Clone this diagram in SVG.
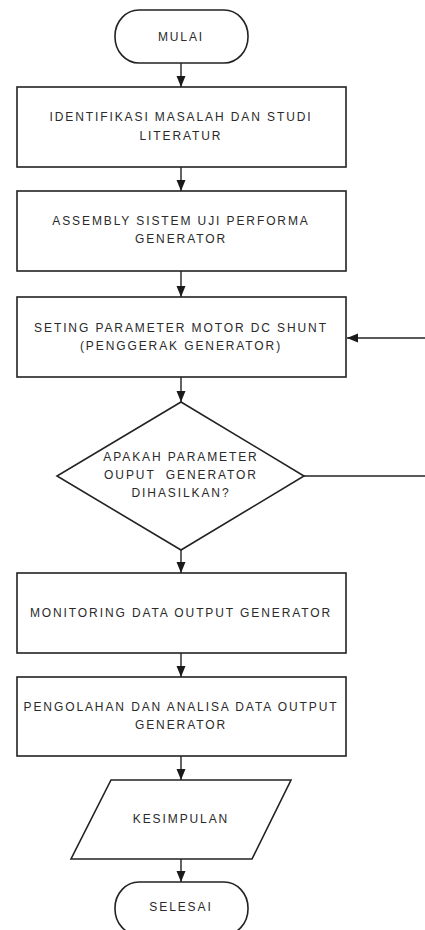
<svg xmlns="http://www.w3.org/2000/svg" width="425" height="930" viewBox="0 0 425 930">
<defs>
<marker id="ah" markerUnits="userSpaceOnUse" markerWidth="12" markerHeight="10" refX="11" refY="4.5" orient="auto">
<path d="M0,0 L11,4.5 L0,9 z" fill="#1a1a1a"/>
</marker>
<style>
.s{fill:#fff;stroke:#222;stroke-width:1.6}
.t{font-family:"Liberation Sans",Arial,sans-serif;font-size:12px;letter-spacing:1.9px;fill:#2a2a2a;text-anchor:middle}
.c{fill:none;stroke:#222;stroke-width:1.4}
</style>
</defs>
<rect width="425" height="930" fill="#fff"/>
<g id="connectors">
<line class="c" x1="181" y1="63" x2="181" y2="87" marker-end="url(#ah)"/>
<line class="c" x1="181" y1="167" x2="181" y2="191" marker-end="url(#ah)"/>
<line class="c" x1="181" y1="271" x2="181" y2="297" marker-end="url(#ah)"/>
<line class="c" x1="181" y1="377" x2="181" y2="402" marker-end="url(#ah)"/>
<line class="c" x1="181" y1="550" x2="181" y2="573" marker-end="url(#ah)"/>
<line class="c" x1="181" y1="653" x2="181" y2="677" marker-end="url(#ah)"/>
<line class="c" x1="181" y1="756" x2="181" y2="780" marker-end="url(#ah)"/>
<line class="c" x1="181" y1="859" x2="181" y2="882" marker-end="url(#ah)"/>
<line class="c" x1="304" y1="476" x2="425" y2="476"/>
<line class="c" x1="425" y1="338" x2="347" y2="338" marker-end="url(#ah)"/>
</g>
<g id="mulai">
<rect class="s" x="115" y="10" width="133" height="53" rx="24" ry="26"/>
<text class="t" x="181" y="41">MULAI</text>
</g>
<g id="identifikasi">
<rect class="s" x="17" y="87" width="329" height="80"/>
<text class="t" x="181" y="121">IDENTIFIKASI MASALAH DAN STUDI</text>
<text class="t" x="181" y="139.5">LITERATUR</text>
</g>
<g id="assembly">
<rect class="s" x="17" y="191" width="329" height="80"/>
<text class="t" x="181" y="225">ASSEMBLY SISTEM UJI PERFORMA</text>
<text class="t" x="181" y="243">GENERATOR</text>
</g>
<g id="seting">
<rect class="s" x="17" y="297" width="329" height="80"/>
<text class="t" x="181" y="332">SETING PARAMETER MOTOR DC SHUNT</text>
<text class="t" x="181" y="349.5">(PENGGERAK GENERATOR)</text>
</g>
<g id="decision">
<polygon class="s" points="181,402 304,476 181,550 57,476"/>
<text class="t" x="181" y="461">APAKAH PARAMETER</text>
<text class="t" x="181" y="479" style="white-space:pre">OUPUT  GENERATOR</text>
<text class="t" x="181" y="497">DIHASILKAN?</text>
</g>
<g id="monitoring">
<rect class="s" x="17" y="573" width="329" height="80"/>
<text class="t" x="181" y="616.5">MONITORING DATA OUTPUT GENERATOR</text>
</g>
<g id="pengolahan">
<rect class="s" x="17" y="677" width="329" height="79"/>
<text class="t" x="181" y="711">PENGOLAHAN DAN ANALISA DATA OUTPUT</text>
<text class="t" x="181" y="729">GENERATOR</text>
</g>
<g id="kesimpulan">
<polygon class="s" points="111,780 291,780 252,859 71,859"/>
<text class="t" x="181" y="823">KESIMPULAN</text>
</g>
<g id="selesai">
<rect class="s" x="115" y="882" width="133" height="53" rx="24" ry="26"/>
<text class="t" x="181" y="911">SELESAI</text>
</g>
</svg>
